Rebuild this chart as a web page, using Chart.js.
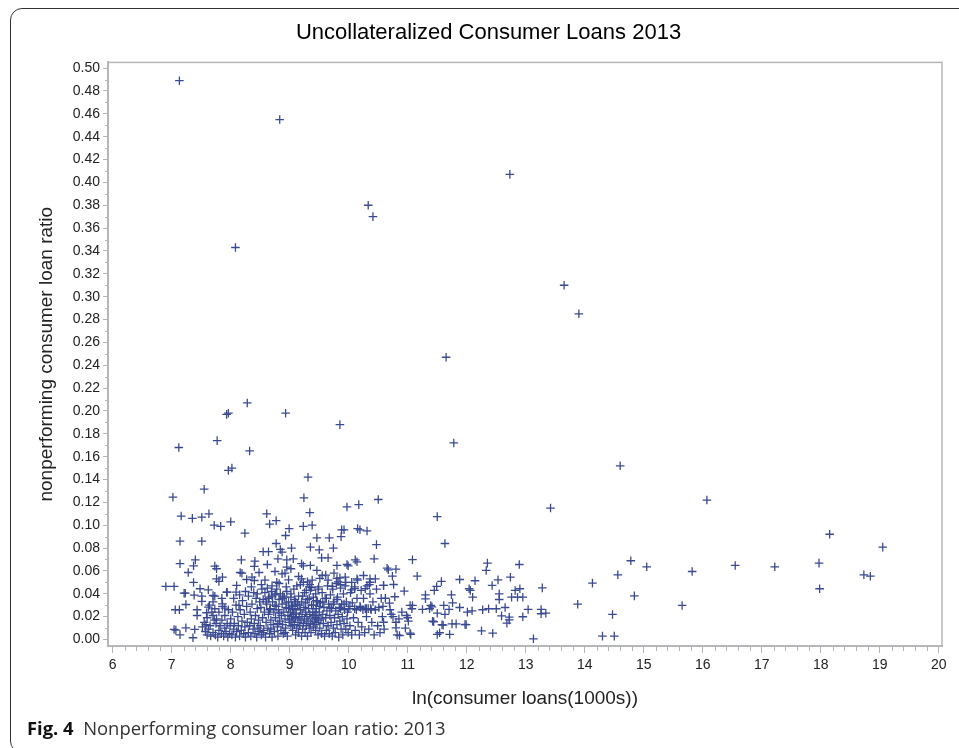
<!DOCTYPE html>
<html>
<head>
<meta charset="utf-8">
<title>Uncollateralized Consumer Loans 2013</title>
<script src="https://cdn.jsdelivr.net/npm/chart.js@4"></script>
<style>
    html, body { margin: 0; padding: 0; background: #fff; overflow: hidden; }
    #wrap { position: relative; width: 959px; height: 748px; overflow: hidden; }
    #frame {
        position: absolute; left: 10px; top: 8px; width: 970px; height: 743px;
        border: 1px solid #333; border-radius: 12px;
    }
    #chart { position: absolute; left: 0; top: 0; filter: blur(.4px); }
    #caption {
        position: absolute; left: 27px; top: 715px;
        font: 18.4px "Open Sans", "Noto Sans", sans-serif; color: #333; white-space: pre;
    }
    #caption b { color: #111; }
</style>
</head>
<body>
<div id="wrap">
    <div id="frame"></div>
    <canvas id="chart" width="959" height="748"></canvas>
    <div id="caption"><b>Fig. 4</b>  Nonperforming consumer loan ratio: 2013</div>
</div>
<script>
const chartTitle = 'Uncollateralized Consumer Loans 2013';
const xTitle = 'ln(consumer loans(1000s))';
const yTitle = 'nonperforming consumer loan ratio';

const xTickValues = [6, 7, 8, 9, 10, 11, 12, 13, 14, 15, 16, 17, 18, 19, 20];
const yTickValues = [0, .02, .04, .06, .08, .10, .12, .14, .16, .18, .20, .22, .24, .26, .28, .30, .32, .34, .36, .38, .40, .42, .44, .46, .48, .50];

// outliers, top of the plot
const xUpper = [7.13, 8.83, 8.08, 10.33, 10.41, 12.73, 13.65, 13.9, 11.65, 11.78, 14.6, 16.07, 13.42, 8.28, 7.93, 7.96, 8.93, 9.85];
const yUpper = [.489, .455, .343, .380, .370, .407, .310, .285, .247, .172, .152, .122, .115, .207, .197, .198, .198, .188];

// band above the dense cloud
const xBand = [7.12, 7.77, 8.32, 7.96, 8.02, 9.31, 7.55, 7.02, 9.24, 10.5, 9.97, 10.17, 9.34, 7.16, 7.35, 7.51, 7.63, 8.61, 7.72, 7.83, 8.0, 8.66, 8.77, 8.24, 8.99, 9.23, 9.38, 9.88, 9.92, 10.15, 10.19, 10.31, 8.93, 9.46, 9.67, 9.87, 7.14, 7.51, 8.77, 10.47];
const yBand = [.168, .174, .165, .148, .150, .142, .1315, .1245, .124, .1225, .116, .118, .111, .108, .106, .107, .110, .110, .100, .099, .103, .101, .104, .093, .097, .099, .100, .096, .096, .097, .096, .095, .091, .089, .089, .090, .086, .086, .084, .083];

// left side, below 0.08
const xLeft = [6.9, 7.04, 7.14, 7.4, 7.37, 7.28, 7.37, 7.21, 7.23, 7.38, 7.48, 7.62, 7.51, 7.51, 7.7, 7.73, 7.93, 7.94, 8.09, 7.73, 7.76, 7.76, 7.86, 7.8, 8.18, 8.16, 8.19, 8.27, 8.1, 8.41, 8.4, 8.48, 8.36, 8.4, 8.55, 8.64, 8.62, 8.84, 8.87, 9.03, 8.8, 8.95, 9.06, 8.95, 9.02, 8.75, 8.87, 8.78, 8.98, 8.92, 9.2, 9.23, 9.35, 9.35, 9.5, 9.74, 9.54, 9.65, 9.8, 9.97, 9.99, 10.11, 10.14, 10.43, 9.46, 9.15, 9.2, 9.3, 9.34, 9.37, 9.51, 9.61, 9.8, 9.94, 10.14, 10.36, 10.36, 10.59, 10.28, 10.05, 10.1, 9.82, 9.72, 9.86, 7.04, 7.07, 7.24, 7.14, 7.39, 7.36, 7.06, 7.13, 7.24, 7.43, 7.43, 7.62, 7.73, 7.59, 7.86, 7.9, 8.14];
const yLeft = [.0464, .0464, .0663, .0697, .0645, .0586, .0499, .0405, .0405, .0388, .0444, .0435, .0379, .0333, .0385, .0379, .0414, .0414, .0414, .0642, .0619, .0531, .0545, .0508, .0697, .0586, .058, .0525, .0473, .0685, .0639, .0586, .0545, .0516, .0768, .0768, .0656, .0788, .0765, .08, .0706, .0697, .0706, .0633, .0619, .0595, .0575, .0501, .0522, .058, .0663, .0645, .0648, .0808, .0785, .08, .0715, .0715, .0648, .0656, .0645, .0697, .068, .0706, .0604, .0551, .053, .0505, .048, .0455, .0534, .0563, .0534, .0545, .0531, .0531, .0501, .0473, .0445, .0435, .0445, .0505, .0465, .048, .0088, .0082, .0102, .0041, .0088, .0015, .026, .026, .0306, .026, .021, .0283, .0269, .0234, .0312, .0274, .0298];

// dense cloud, split by ln(loans)
const x75 = [7.52, 7.55, 7.57, 7.58, 7.6, 7.6, 7.62, 7.64, 7.65, 7.66, 7.68, 7.7, 7.7, 7.72, 7.74, 7.75, 7.76, 7.78, 7.8, 7.8, 7.82, 7.84, 7.85, 7.86, 7.88, 7.9, 7.9, 7.92, 7.94, 7.95, 7.96, 7.98, 7.99, 7.7, 7.85];
const y75 = [.011, .015, .007, .013, .004, .019, .009, .030, .012, .003, .024, .006, .021, .017, .004, .014, .018, .002, .008, .024, .012, .005, .017, .029, .003, .010, .021, .007, .014, .002, .026, .005, .012, .033, .036];
const x80 = [8.0, 8.02, 8.03, 8.05, 8.06, 8.08, 8.09, 8.1, 8.12, 8.13, 8.15, 8.16, 8.18, 8.19, 8.2, 8.22, 8.23, 8.24, 8.25, 8.27, 8.28, 8.3, 8.3, 8.32, 8.33, 8.34, 8.35, 8.36, 8.38, 8.39, 8.4, 8.41, 8.42, 8.43, 8.44, 8.45, 8.46, 8.47, 8.48, 8.49, 8.05, 8.15, 8.25, 8.35, 8.45];
const y80 = [.018, .004, .024, .009, .014, .002, .030, .007, .020, .012, .003, .026, .008, .016, .034, .005, .022, .011, .002, .029, .015, .006, .038, .012, .024, .003, .018, .031, .009, .041, .014, .005, .021, .036, .002, .027, .010, .017, .007, .033, .036, .039, .042, .046, .040];
const x85 = [8.5, 8.51, 8.52, 8.53, 8.54, 8.55, 8.56, 8.57, 8.58, 8.59, 8.6, 8.61, 8.62, 8.63, 8.64, 8.65, 8.66, 8.67, 8.68, 8.69, 8.7, 8.71, 8.72, 8.73, 8.74, 8.75, 8.76, 8.77, 8.78, 8.79, 8.8, 8.81, 8.82, 8.83, 8.84, 8.85, 8.86, 8.87, 8.88, 8.89, 8.9, 8.91, 8.92, 8.93, 8.94, 8.95, 8.96, 8.97, 8.98, 8.99, 8.52, 8.58, 8.64, 8.7, 8.76, 8.82, 8.88, 8.94, 8.55, 8.68, 8.8, 8.92];
const y85 = [.012, .028, .004, .044, .019, .035, .008, .024, .041, .002, .015, .031, .045, .010, .022, .037, .005, .027, .017, .042, .002, .033, .013, .024, .007, .039, .019, .029, .044, .011, .003, .026, .035, .016, .040, .008, .021, .031, .013, .005, .024, .037, .018, .010, .028, .042, .003, .021, .033, .015, .048, .052, .036, .047, .040, .049, .038, .046, .006, .009, .014, .006];
const x90 = [9.0, 9.01, 9.02, 9.03, 9.03, 9.04, 9.05, 9.05, 9.06, 9.07, 9.08, 9.08, 9.09, 9.1, 9.1, 9.11, 9.12, 9.13, 9.14, 9.15, 9.15, 9.16, 9.17, 9.18, 9.19, 9.2, 9.2, 9.21, 9.22, 9.23, 9.24, 9.25, 9.25, 9.26, 9.27, 9.28, 9.29, 9.3, 9.3, 9.31, 9.32, 9.33, 9.34, 9.35, 9.35, 9.36, 9.37, 9.38, 9.39, 9.4, 9.4, 9.41, 9.42, 9.43, 9.43, 9.44, 9.44, 9.45, 9.46, 9.46, 9.47, 9.48, 9.49, 9.49, 9.02, 9.07, 9.12, 9.18, 9.23, 9.28, 9.33, 9.38, 9.44, 9.48];
const y90 = [.017, .024, .012, .030, .020, .015, .026, .008, .022, .018, .035, .013, .027, .004, .019, .023, .010, .031, .015, .038, .006, .020, .012, .026, .017, .003, .033, .022, .009, .014, .028, .041, .018, .006, .024, .012, .020, .035, .003, .016, .027, .010, .022, .043, .014, .006, .030, .018, .024, .011, .037, .021, .016, .013, .024, .019, .008, .027, .021, .015, .033, .004, .017, .046, .040, .044, .047, .048, .050, .043, .046, .052, .040, .044];
const x95 = [9.5, 9.51, 9.52, 9.53, 9.54, 9.55, 9.56, 9.57, 9.58, 9.59, 9.6, 9.61, 9.62, 9.63, 9.64, 9.65, 9.66, 9.67, 9.68, 9.69, 9.7, 9.71, 9.72, 9.73, 9.74, 9.75, 9.76, 9.77, 9.78, 9.79, 9.8, 9.81, 9.82, 9.83, 9.84, 9.85, 9.86, 9.87, 9.88, 9.89, 9.9, 9.91, 9.92, 9.93, 9.94, 9.95, 9.96, 9.97, 9.98, 9.99, 9.55, 9.65, 9.75, 9.85, 9.95];
const y95 = [.024, .010, .032, .018, .005, .041, .022, .014, .028, .003, .036, .019, .008, .025, .047, .012, .031, .005, .021, .039, .015, .027, .003, .044, .010, .033, .019, .006, .025, .049, .013, .037, .022, .002, .028, .016, .045, .009, .031, .020, .004, .040, .014, .026, .047, .009, .033, .018, .024, .006, .056, .052, .058, .054, .050];
const x100 = [10.0, 10.02, 10.03, 10.05, 10.06, 10.08, 10.1, 10.11, 10.13, 10.14, 10.16, 10.18, 10.19, 10.21, 10.22, 10.24, 10.25, 10.27, 10.28, 10.3, 10.31, 10.33, 10.34, 10.36, 10.37, 10.39, 10.41, 10.43, 10.45, 10.47, 10.49, 10.51, 10.53, 10.55, 10.57, 10.05, 10.15, 10.25, 10.35, 10.45, 10.58];
const y100 = [.027, .012, .041, .004, .032, .019, .046, .008, .026, .036, .015, .004, .029, .043, .011, .026, .036, .006, .027, .020, .047, .027, .009, .040, .027, .015, .033, .004, .026, .044, .012, .028, .006, .036, .020, .050, .052, .056, .048, .053, .029];

// extra points where the cloud is darkest
const xClump = [8.6, 8.66, 8.7, 8.75, 8.82, 8.88, 8.94, 8.98, 9.02, 9.05, 9.1, 9.16, 9.22, 9.27, 9.33, 9.4, 9.45, 9.5, 9.56, 9.62, 9.68, 9.74, 9.8, 9.86, 9.92, 10.02, 10.1, 10.2, 10.3, 10.38];
const yClump = [.033, .026, .038, .030, .023, .036, .032, .027, .037, .029, .033, .030, .038, .032, .036, .030, .034, .029, .033, .036, .028, .031, .035, .027, .031, .029, .027, .028, .027, .026];

// right of the cloud
const xRight = [11.5, 11.63, 11.08, 12.35, 12.33, 12.89, 10.65, 10.67, 10.8, 11.16, 10.74, 10.59, 10.76, 10.94, 11.88, 12.14, 12.53, 12.74, 11.57, 11.49, 11.45, 12.04, 12.06, 12.43, 13.28, 14.13, 14.56, 14.78, 15.05, 14.84, 13.88, 14.47, 14.3, 14.5, 13.13, 12.9, 12.82, 12.55, 12.55, 12.76, 12.86, 12.95, 12.1, 11.74, 11.3, 11.3, 11.76, 11.61, 11.39, 11.41, 11.04, 11.08, 11.07, 10.78, 10.62, 10.69, 11.88, 11.7, 11.25, 11.37, 11.5, 11.63, 12.01, 12.09, 12.27, 12.37, 12.5, 12.65, 13.04, 13.26, 13.26, 13.34, 12.95, 12.59, 12.72, 12.72, 12.68, 11.42, 11.44, 11.58, 11.6, 11.75, 11.82, 11.97, 11.99, 12.25, 12.44, 11.5, 11.54, 11.71, 11.05, 11.04, 10.86, 10.82, 10.8, 10.96, 11.01, 10.8, 10.59, 10.6, 10.72, 10.7, 10.75, 10.85, 10.9, 10.98, 11.0];
const yRight = [.1075, .084, .0698, .0668, .0604, .0656, .0624, .061, .0615, .0554, .0554, .0473, .0481, .0423, .0525, .0514, .0522, .0545, .0508, .0464, .0429, .0444, .043, .0473, .0452, .0493, .0566, .0689, .0636, .0382, .0309, .0219, .0029, .0029, .0006, .0444, .0429, .04, .035, .037, .037, .037, .037, .0391, .0391, .0356, .0321, .0298, .0298, .0285, .0298, .0298, .0269, .0374, .0361, .0318, .028, .0263, .0263, .0269, .023, .0219, .0239, .0251, .026, .0269, .0269, .028, .0263, .0263, .0225, .023, .0199, .0207, .0195, .0172, .0143, .016, .0155, .0129, .0125, .0137, .0137, .0131, .013, .0076, .0055, .0044, .0059, .0044, .0044, .0055, .0035, .004, .0102, .0099, .016, .0151, .0151, .009, .022, .026, .02, .018, .024, .021, .019];

// far right
const xFar = [18.15, 19.05, 17.97, 17.98, 18.73, 18.84, 17.22, 16.55, 15.82, 15.65];
const yFar = [.0921, .0808, .0668, .0444, .0566, .0554, .0636, .0648, .0595, .0298];

const xValues = [xUpper, xBand, xLeft, x75, x80, x85, x90, x95, x100, xClump, xRight, xFar].flat();
const yValues = [yUpper, yBand, yLeft, y75, y80, y85, y90, y95, y100, yClump, yRight, yFar].flat();

const axisGray = '#b4b7ba';
const textFont = '"Liberation Sans", Arial, sans-serif';

// minor ticks and the top/right edges of the plot box
const plotFrame = {
    id: 'plotFrame',
    afterDraw(chart) {
        const { ctx, chartArea, scales } = chart;
        ctx.save();
        ctx.strokeStyle = axisGray;
        ctx.lineWidth = 1.5;
        ctx.strokeRect(chartArea.left, chartArea.top, chartArea.right - chartArea.left, chartArea.bottom - chartArea.top);
        ctx.lineWidth = 1;
        ctx.beginPath();
        xTickValues.slice(0, -1).forEach(v => {
            [.2, .4, .6, .8].forEach(d => {
                const px = Math.round(scales.x.getPixelForValue(v + d)) + .5;
                ctx.moveTo(px, chartArea.bottom);
                ctx.lineTo(px, chartArea.bottom + 5);
            });
        });
        yTickValues.slice(0, -1).forEach(v => {
            const py = Math.round(scales.y.getPixelForValue(v + .01)) + .5;
            ctx.moveTo(chartArea.left, py);
            ctx.lineTo(chartArea.left - 3, py);
        });
        ctx.stroke();
        ctx.restore();
    }
};

new Chart(document.getElementById('chart'), {
    type: 'scatter',
    plugins: [plotFrame],
    data: {
        datasets: [{
            data: xValues.map((x, i) => ({ x: x, y: yValues[i] })),
            pointStyle: 'cross',
            pointRadius: 4.3,
            pointBorderWidth: 1.3,
            pointBorderColor: '#3a4a92',
            pointBackgroundColor: '#3a4a92'
        }]
    },
    options: {
        responsive: false,
        animation: false,
        layout: { padding: { left: 35, right: 17, top: 0, bottom: 38 } },
        plugins: {
            legend: { display: false },
            tooltip: { enabled: false },
            title: {
                display: true,
                text: chartTitle,
                color: '#000',
                font: { family: textFont, size: 22, weight: 'normal' },
                padding: { top: 20, bottom: 16 }
            }
        },
        scales: {
            x: {
                type: 'linear',
                min: 5.92,
                max: 20.054,
                afterBuildTicks: axis => { axis.ticks = xTickValues.map(v => ({ value: v })); },
                afterFit: axis => { axis.height = 64; },
                border: { color: axisGray, width: 2 },
                grid: { drawOnChartArea: false, color: axisGray, tickLength: 7 },
                ticks: {
                    autoSkip: false,
                    maxRotation: 0,
                    padding: 4,
                    color: '#222',
                    font: { family: textFont, size: 14 },
                    callback: v => String(v)
                },
                title: {
                    display: true,
                    text: xTitle,
                    color: '#222',
                    font: { family: textFont, size: 19 },
                    padding: { top: 14, bottom: 0 }
                }
            },
            y: {
                type: 'linear',
                min: -0.0057,
                max: 0.505,
                afterBuildTicks: axis => { axis.ticks = yTickValues.map(v => ({ value: v })); },
                afterFit: axis => { axis.width = 73; },
                border: { color: axisGray, width: 2 },
                grid: { drawOnChartArea: false, color: axisGray, tickLength: 5 },
                ticks: {
                    autoSkip: false,
                    padding: 3,
                    color: '#222',
                    font: { family: textFont, size: 14 },
                    callback: v => v.toFixed(2)
                },
                title: {
                    display: true,
                    text: yTitle,
                    color: '#222',
                    font: { family: textFont, size: 19 },
                    padding: { top: 0, bottom: 0 }
                }
            }
        }
    }
});
</script>
</body>
</html>
